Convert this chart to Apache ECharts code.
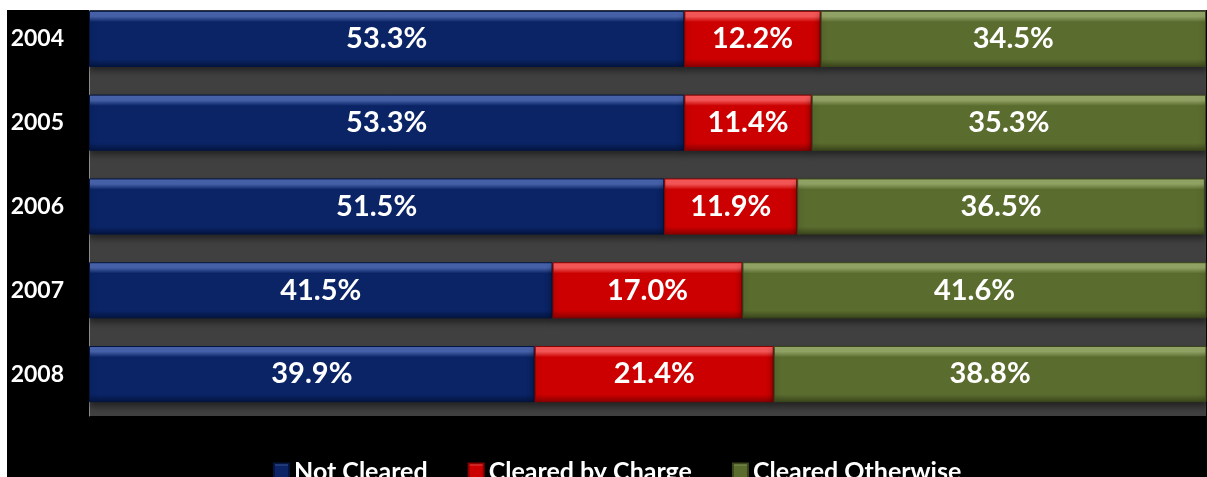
<!DOCTYPE html>
<html>
<head>
<meta charset="utf-8">
<script src="https://cdn.jsdelivr.net/npm/echarts@6/dist/echarts.min.js"></script>
<style>
  html, body { margin: 0; padding: 0; background: #fff; width: 1207px; height: 477px; overflow: hidden; }
  #chart { position: absolute; left: 7px; top: -13px; width: 1200px; height: 490px; }
  .edge { position: absolute; left: 0; top: 0; width: 1207px; height: 10px; background: #fff; z-index: 5; }
</style>
</head>
<body>
<div id="chart"></div>
<div class="edge"></div>
<script>
const years = ['2004', '2005', '2006', '2007', '2008']
const notCleared = [53.3, 53.3, 51.5, 41.5, 39.9]
const clearedByCharge = [12.2, 11.4, 11.9, 17.0, 21.4]
const clearedOtherwise = [34.5, 35.3, 36.5, 41.6, 38.8]

const chart = echarts.init(document.getElementById('chart'))

// bevel-ish look: light top edge, flat body, dark bottom edge
function bevel (light, body, dark) {
  return new echarts.graphic.LinearGradient(0, 0, 0, 1, [
    { offset: 0, color: light },
    { offset: 0.1, color: light },
    { offset: 0.2, color: body },
    { offset: 0.86, color: body },
    { offset: 1, color: dark }
  ])
}

function series (name, data, light, body, dark) {
  return {
    name: name,
    type: 'bar',
    stack: 'total',
    barCategoryGap: '33%',
    data: data,
    itemStyle: {
      color: bevel(light, body, dark),
      borderColor: dark,
      borderWidth: 1,
      shadowColor: 'rgba(0,0,0,0.45)',
      shadowBlur: 6,
      shadowOffsetY: 4
    },
    label: {
      show: true,
      position: 'inside',
      color: '#fff',
      fontFamily: 'Lato',
      fontWeight: 'bold',
      fontSize: 29,
      formatter: p => p.value.toFixed(1) + '%'
    }
  }
}

const option = {
  backgroundColor: '#000',
  animation: false,
  grid: {
    left: 82,
    right: 1,
    top: 10,
    bottom: 61,
    show: true,
    backgroundColor: '#404040',
    borderWidth: 0
  },
  legend: {
    data: ['Not Cleared', 'Cleared by Charge', 'Cleared Otherwise'],
    left: 266,
    top: 472,
    padding: 0,
    icon: 'rect',
    itemWidth: 15,
    itemHeight: 16,
    itemGap: 40,
    textStyle: {
      color: '#fff',
      fontFamily: 'Lato',
      fontWeight: 'bold',
      fontSize: 25
    }
  },
  xAxis: {
    type: 'value',
    min: 0,
    max: 100,
    show: false
  },
  yAxis: {
    type: 'category',
    inverse: true,
    data: years,
    axisLine: { lineStyle: { color: '#8c8c8c' } },
    axisTick: { length: 9, lineStyle: { color: '#8c8c8c' } },
    axisLabel: {
      color: '#fff',
      fontFamily: 'Lato',
      fontWeight: 'bold',
      fontSize: 23,
      margin: 25
    }
  },
  series: [
    series('Not Cleared', notCleared, '#4a66b0', '#0a2466', '#041540'),
    series('Cleared by Charge', clearedByCharge, '#ff5a5a', '#cc0000', '#8a0000'),
    series('Cleared Otherwise', clearedOtherwise, '#98aa6a', '#5b6c2f', '#3a461c')
  ]
}

chart.setOption(option)
</script>
</body>
</html>
